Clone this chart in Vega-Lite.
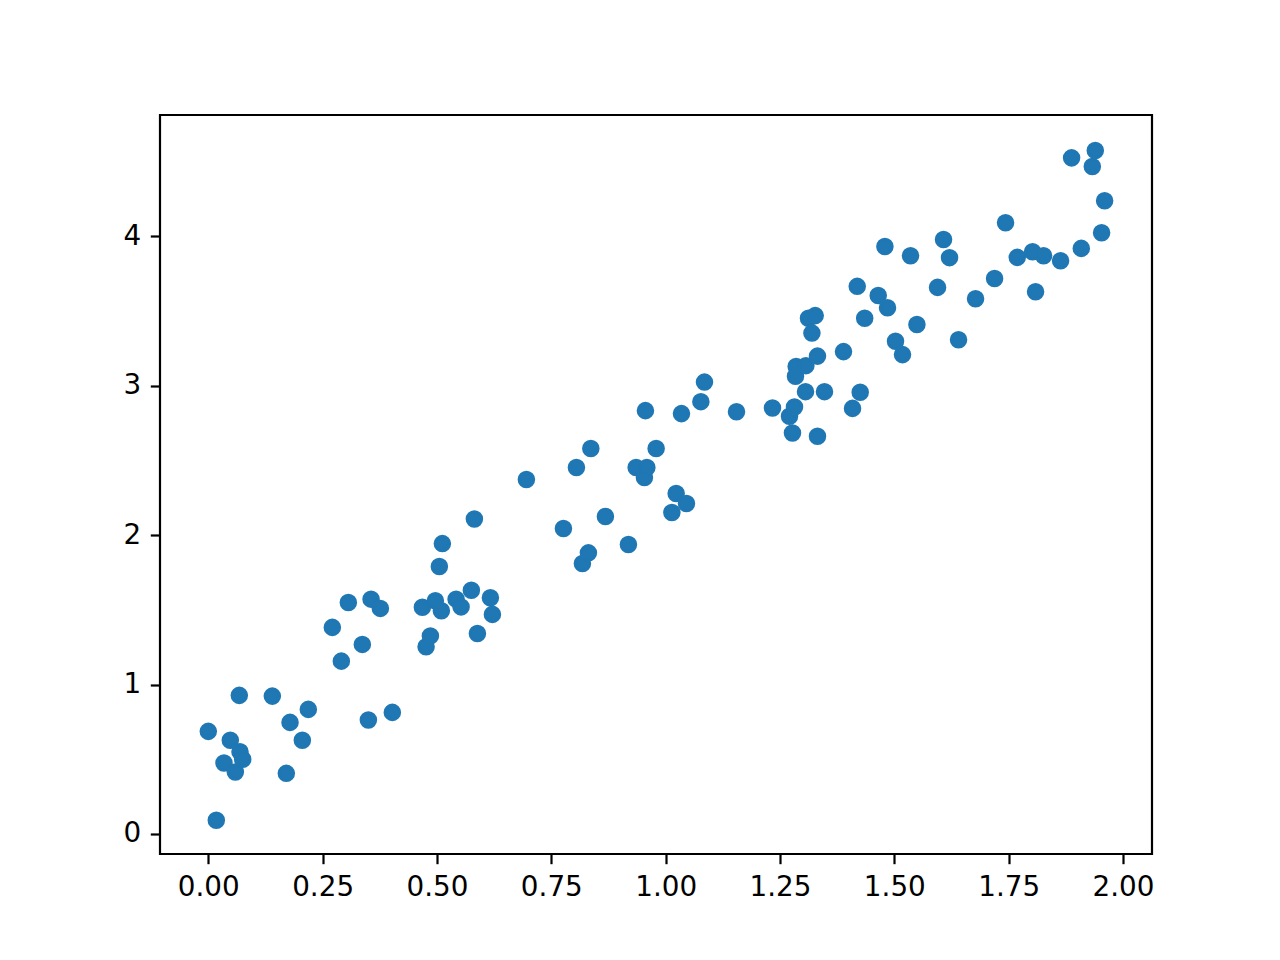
{
  "$schema": "https://vega.github.io/schema/vega-lite/v6.json",
  "autosize": "none",
  "width": 992,
  "height": 739,
  "padding": {"left": 160, "top": 115, "right": 128, "bottom": 106},
  "background": "white",
  "config": {
    "view": {"stroke": "black", "strokeWidth": 2.2},
    "axis": {
      "domain": false,
      "grid": false,
      "ticks": true,
      "tickColor": "black",
      "tickSize": 9.7,
      "tickWidth": 2.2,
      "labelColor": "black",
      "labelFont": "DejaVu Sans",
      "labelFontSize": 27.8,
      "labelPadding": 9.7,
      "title": null
    }
  },
  "data": {
    "values": [
      {"x": 0.000, "y": 0.687}, {"x": 0.0175, "y": 0.092}, {"x": 0.0343, "y": 0.475}, {"x": 0.0481, "y": 0.627},
      {"x": 0.0591, "y": 0.415}, {"x": 0.0678, "y": 0.928}, {"x": 0.0693, "y": 0.551}, {"x": 0.0752, "y": 0.500},
      {"x": 0.140, "y": 0.923}, {"x": 0.1706, "y": 0.406}, {"x": 0.1787, "y": 0.747}, {"x": 0.2056, "y": 0.627},
      {"x": 0.2187, "y": 0.834}, {"x": 0.2712, "y": 1.383}, {"x": 0.2909, "y": 1.157}, {"x": 0.3062, "y": 1.550},
      {"x": 0.3368, "y": 1.269}, {"x": 0.350, "y": 0.763}, {"x": 0.3559, "y": 1.572}, {"x": 0.3762, "y": 1.510},
      {"x": 0.4024, "y": 0.814}, {"x": 0.4681, "y": 1.518}, {"x": 0.4762, "y": 1.253}, {"x": 0.4856, "y": 1.326},
      {"x": 0.4965, "y": 1.561}, {"x": 0.5052, "y": 1.791}, {"x": 0.5096, "y": 1.494}, {"x": 0.5118, "y": 1.944},
      {"x": 0.5418, "y": 1.572}, {"x": 0.5527, "y": 1.520}, {"x": 0.5752, "y": 1.632}, {"x": 0.5818, "y": 2.109},
      {"x": 0.5884, "y": 1.342}, {"x": 0.6168, "y": 1.581}, {"x": 0.6212, "y": 1.470}, {"x": 0.6955, "y": 2.373},
      {"x": 0.7765, "y": 2.045}, {"x": 0.8049, "y": 2.453}, {"x": 0.8180, "y": 1.811}, {"x": 0.8311, "y": 1.882},
      {"x": 0.8364, "y": 2.580}, {"x": 0.8683, "y": 2.125}, {"x": 0.9186, "y": 1.938}, {"x": 0.9355, "y": 2.453},
      {"x": 0.9536, "y": 2.386}, {"x": 0.9558, "y": 2.834}, {"x": 0.9589, "y": 2.453}, {"x": 0.9792, "y": 2.580},
      {"x": 1.0136, "y": 2.152}, {"x": 1.0230, "y": 2.279}, {"x": 1.0346, "y": 2.814}, {"x": 1.0455, "y": 2.212},
      {"x": 1.0770, "y": 2.894}, {"x": 1.0849, "y": 3.025}, {"x": 1.1549, "y": 2.827}, {"x": 1.2336, "y": 2.852},
      {"x": 1.2708, "y": 2.796}, {"x": 1.2773, "y": 2.684}, {"x": 1.2817, "y": 2.858}, {"x": 1.2839, "y": 3.064},
      {"x": 1.2854, "y": 3.130}, {"x": 1.3058, "y": 2.961}, {"x": 1.3066, "y": 3.135}, {"x": 1.3123, "y": 3.452},
      {"x": 1.3198, "y": 3.353}, {"x": 1.3270, "y": 3.470}, {"x": 1.3320, "y": 2.662}, {"x": 1.3320, "y": 3.199},
      {"x": 1.3473, "y": 2.961}, {"x": 1.3889, "y": 3.229}, {"x": 1.4086, "y": 2.849}, {"x": 1.4189, "y": 3.666},
      {"x": 1.4254, "y": 2.957}, {"x": 1.4352, "y": 3.452}, {"x": 1.4648, "y": 3.605}, {"x": 1.4794, "y": 3.933},
      {"x": 1.4851, "y": 3.523}, {"x": 1.5026, "y": 3.298}, {"x": 1.5179, "y": 3.209}, {"x": 1.5354, "y": 3.871},
      {"x": 1.5494, "y": 3.411}, {"x": 1.5945, "y": 3.659}, {"x": 1.6076, "y": 3.980}, {"x": 1.6207, "y": 3.858},
      {"x": 1.6404, "y": 3.309}, {"x": 1.6776, "y": 3.583}, {"x": 1.7192, "y": 3.719}, {"x": 1.7432, "y": 4.092},
      {"x": 1.7688, "y": 3.860}, {"x": 1.8023, "y": 3.898}, {"x": 1.8088, "y": 3.630}, {"x": 1.8263, "y": 3.871},
      {"x": 1.8635, "y": 3.837}, {"x": 1.8876, "y": 4.526}, {"x": 1.9088, "y": 3.920}, {"x": 1.9329, "y": 4.468},
      {"x": 1.9394, "y": 4.575}, {"x": 1.9532, "y": 4.025}, {"x": 1.9598, "y": 4.239}
    ]
  },
  "mark": {"type": "circle", "size": 218, "color": "#1f77b4", "opacity": 1, "stroke": "#1f77b4", "strokeWidth": 2.78, "clip": true},
  "encoding": {
    "x": {
      "field": "x", "type": "quantitative",
      "scale": {"domain": [-0.1056, 2.0634], "nice": false, "zero": false},
      "axis": {"values": [0, 0.25, 0.5, 0.75, 1, 1.25, 1.5, 1.75, 2], "format": ".2f"}
    },
    "y": {
      "field": "y", "type": "quantitative",
      "scale": {"domain": [-0.134, 4.813], "nice": false, "zero": false},
      "axis": {"values": [0, 1, 2, 3, 4], "format": "d"}
    }
  }
}
